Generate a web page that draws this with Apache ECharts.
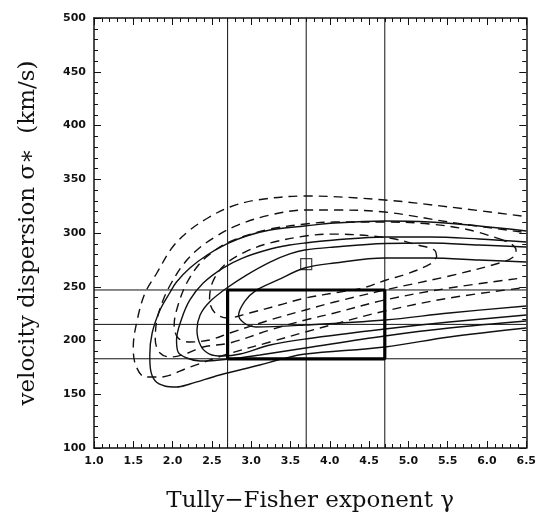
<!DOCTYPE html>
<html>
<head>
<meta charset="utf-8">
<script src="https://cdn.jsdelivr.net/npm/echarts@6/dist/echarts.min.js"></script>
<style>
  html, body { margin: 0; padding: 0; background: #fff; }
  #chart { width: 539px; height: 523px; }
</style>
</head>
<body>
<div id="chart"></div>
<script>
// solid contours, outermost first  [gamma, sigma]
var solid1 = [[6.50,301.9],[5.90,306.5],[5.27,310.2],[4.70,311.2],[4.06,309.3],[3.68,306.5],[3.24,302.8],[2.94,297.2],[2.69,289.8],[2.44,279.5],[2.22,267.4],[2.05,254.4],[1.97,245.1],[1.84,228.4],[1.74,207],[1.71,186.5],[1.72,172.6],[1.78,162.3],[1.90,157.7],[2.05,156.7],[2.22,159.5],[2.60,167.9],[3.11,177.2],[3.39,182.8],[3.69,187.4],[4.70,194],[5.52,203.3],[6.50,211.6]];
var solid2 = [[6.50,291.6],[5.90,294.4],[5.27,296.3],[4.70,296.3],[4.06,293.5],[3.68,290.7],[3.49,288.8],[3.20,284.2],[2.89,276.7],[2.64,267.4],[2.39,253.5],[2.22,237.7],[2.11,219.1],[2.05,200.5],[2.07,189.3],[2.18,183.7],[2.35,180.9],[2.73,182.8],[3.11,186.5],[3.69,193],[4.70,204.2],[5.52,211.6],[6.50,218.1]];
var solid3 = [[6.50,287],[5.90,288.8],[5.27,290.7],[4.70,290.2],[4.06,287],[3.68,284.2],[3.49,280.5],[3.24,273],[2.94,260.9],[2.69,248.8],[2.47,235.8],[2.35,223.7],[2.31,209.8],[2.36,194.9],[2.47,187.4],[2.64,185.6],[2.86,187.4],[3.24,195.8],[3.69,201.4],[4.70,210.7],[5.52,217.2],[6.50,223.7]];
var solid4 = [[6.50,273],[5.90,274.9],[5.27,276.7],[4.70,276.7],[4.06,272.1],[3.68,267.4],[3.34,256.3],[3.05,246],[2.92,236.7],[2.84,223.7],[2.91,216.3],[3.06,212.6],[3.69,214.4],[4.70,219.1],[5.52,225.6],[6.50,232.1]];

// dashed contours
var dash1 = [[6.44,315.8],[5.52,324.2],[4.70,330.7],[3.69,334.4],[3.07,330.7],[2.73,324.2],[2.47,314.9],[2.22,302.8],[2.00,287],[1.80,262.8],[1.65,244.2],[1.55,219.1],[1.50,194],[1.53,177.2],[1.65,166],[1.84,166],[2.22,175.3],[2.70,187.4],[3.24,198.6],[3.69,207.9],[4.06,215.3],[4.70,227.4],[5.52,239.5],[6.44,248.8]];
var dash2 = [[6.44,300.9],[5.52,310.2],[4.70,319.5],[4.06,321.4],[3.69,321.4],[3.24,316.7],[2.83,307.4],[2.54,296.3],[2.31,284.2],[2.13,270.2],[1.97,251.6],[1.88,237.7],[1.80,219.1],[1.78,200.5],[1.84,188.4],[1.97,184.7],[2.16,187.4],[2.39,194],[2.73,197.7],[3.24,209.8],[3.69,219.1],[4.06,225.6],[4.70,237.7],[5.52,248.8],[6.44,258.1]];
var dash3 = [[6.20,293.5],[5.78,302.8],[5.27,308.4],[4.70,310.2],[4.06,310.2],[3.69,308.4],[3.24,303.7],[2.92,297.2],[2.69,290.7],[2.51,282.3],[2.35,272.1],[2.18,253.5],[2.07,233],[2.02,214.4],[2.07,202.3],[2.22,198.6],[2.47,200.5],[2.73,207],[3.24,219.1],[3.69,228.4],[4.06,235.8],[4.70,247],[5.52,260],[6.20,273],[6.35,278.6],[6.37,284.2],[6.31,289.8],[6.20,293.5]];
var dash4 = [[5.36,277.7],[5.33,284.2],[5.12,288.8],[4.76,295.3],[4.06,299],[3.69,297.2],[3.24,290.7],[2.92,282.3],[2.66,270.2],[2.51,254.4],[2.47,237.7],[2.54,225.6],[2.70,220.9],[2.98,225.6],[3.36,233],[3.69,239.5],[4.13,245.1],[4.42,248.8],[4.72,256.3],[4.98,261.9],[5.28,271.2],[5.36,277.7]];

var vLines = [2.7, 3.7, 4.7];
var hLines = [183, 215, 247];
var boxX = [2.7, 4.7];
var boxY = [183, 247];
var bestFit = [3.7, 271];

var xMin = 1.0, xMax = 6.5, yMin = 100, yMax = 500;

var series = [];
[solid1, solid2, solid3, solid4].forEach(function (c) {
    series.push({ type: 'line', data: c, smooth: 0.35, symbol: 'none',
        lineStyle: { color: '#111', width: 1.4 } });
});
[dash1, dash2, dash3, dash4].forEach(function (c) {
    series.push({ type: 'line', data: c, smooth: 0.35, symbol: 'none',
        lineStyle: { color: '#111', width: 1.4, type: [9, 6] } });
});
vLines.forEach(function (v) {
    series.push({ type: 'line', data: [[v, yMin], [v, yMax]], symbol: 'none',
        lineStyle: { color: '#111', width: 1 } });
});
hLines.forEach(function (h) {
    series.push({ type: 'line', data: [[xMin, h], [xMax, h]], symbol: 'none',
        lineStyle: { color: '#111', width: 1 } });
});
series.push({ type: 'line', symbol: 'none',
    data: [[boxX[0], boxY[0]], [boxX[1], boxY[0]], [boxX[1], boxY[1]], [boxX[0], boxY[1]], [boxX[0], boxY[0]]],
    lineStyle: { color: '#000', width: 3.2 } });
series.push({ type: 'scatter', data: [bestFit], symbol: 'rect', symbolSize: 11,
    itemStyle: { color: 'rgba(0,0,0,0)', borderColor: '#111', borderWidth: 1.2 } });

var tickLabel = { fontFamily: 'DejaVu Sans', fontWeight: 'bold', fontSize: 11, color: '#111' };

function xAx(pos, show) {
    return {
        type: 'value', position: pos, min: xMin, max: xMax, interval: 0.5,
        name: show ? 'Tully\u2212Fisher exponent \u03b3' : '',
        nameLocation: 'middle', nameGap: 42,
        nameTextStyle: { fontFamily: 'DejaVu Serif', fontSize: 23, color: '#111' },
        axisLine: { show: true, lineStyle: { color: '#111', width: 1.5 } },
        axisTick: { show: true, inside: true, length: 7, lineStyle: { color: '#111' } },
        minorTick: { show: true, splitNumber: 5, length: 4, lineStyle: { color: '#111' } },
        axisLabel: { show: show, margin: 8, formatter: function (v) { return v.toFixed(1); }, textStyle: tickLabel },
        splitLine: { show: false }
    };
}
function yAx(pos, show) {
    return {
        type: 'value', position: pos, min: yMin, max: yMax, interval: 50,
        name: show ? 'velocity dispersion \u03c3\u2217  (km/s)' : '',
        nameLocation: 'middle', nameGap: 54,
        nameTextStyle: { fontFamily: 'DejaVu Serif', fontSize: 23, color: '#111' },
        axisLine: { show: true, lineStyle: { color: '#111', width: 1.5 } },
        axisTick: { show: true, inside: true, length: 7, lineStyle: { color: '#111' } },
        minorTick: { show: true, splitNumber: 5, length: 4, lineStyle: { color: '#111' } },
        axisLabel: { show: show, margin: 8, textStyle: tickLabel },
        splitLine: { show: false }
    };
}

var option = {
    animation: false,
    backgroundColor: '#fff',
    grid: { left: 94, right: 12, top: 18, bottom: 75 },
    xAxis: [xAx('bottom', true), xAx('top', false)],
    yAxis: [yAx('left', true), yAx('right', false)],
    series: series
};

var myChart = echarts.init(document.getElementById('chart'));
myChart.setOption(option);
</script>
</body>
</html>
